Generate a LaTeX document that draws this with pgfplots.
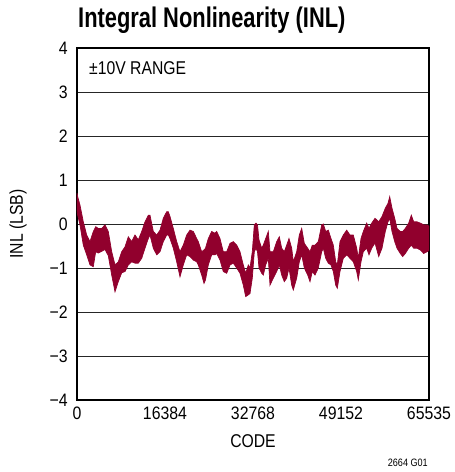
\documentclass[border=0pt]{standalone}
\usepackage{fontspec}
\setmainfont{Liberation Sans}[FakeStretch=0.85]
\newfontfamily\titlefont{Liberation Sans}[FakeStretch=0.77]
\newfontfamily\tickfont{Liberation Sans}[FakeStretch=0.88]
\usepackage{pgfplots}
\pgfplotsset{compat=1.18}
\usepackage{pgfplotstable}
\definecolor{inl}{RGB}{145,0,45}
\pgfplotstableread{
x top bot
0 0.70 0.30
130 0.62 0.20
559 0.43 -0.02
1173 0.05 -0.48
1806 -0.25 -0.70
2420 -0.40 -0.93
3035 -0.17 -0.97
3482 -0.06 -0.63
3966 -0.10 -0.66
4599 -0.10 -0.62
5213 -0.02 -0.58
5828 -0.17 -0.72
6460 -0.63 -1.16
7075 -0.93 -1.54
7689 -0.86 -1.31
8322 -0.63 -1.11
8936 -0.52 -1.08
9551 -0.29 -0.93
10184 -0.40 -0.86
10798 -0.25 -0.89
11413 -0.36 -0.89
12046 -0.17 -0.78
12660 0.05 -0.55
13275 0.20 -0.33
13591 0.20 -0.25
14206 -0.17 -0.55
14839 -0.25 -0.70
15453 -0.14 -0.63
16067 0.13 -0.40
16700 0.28 -0.25
17000 0.28 -0.25
17316 0.17 -0.33
17929 -0.10 -0.55
18562 -0.40 -0.86
19177 -0.63 -1.20
19791 -0.48 -0.93
20424 -0.25 -0.70
21039 -0.14 -0.74
21653 -0.17 -0.82
22286 -0.33 -0.86
22584 -0.40 -0.93
23217 -0.63 -1.16
23645 -0.59 -1.35
23924 -0.55 -1.27
24445 -0.33 -0.93
25078 -0.17 -0.70
25693 -0.21 -0.70
26009 -0.17 -0.67
26624 -0.33 -0.82
27238 -0.63 -1.08
27871 -0.63 -1.12
28486 -0.44 -0.93
29100 -0.40 -0.89
29733 -0.48 -1.00
30348 -0.63 -1.12
30962 -0.93 -1.39
31409 -1.12 -1.65
31893 -0.93 -1.61
32209 -1.00 -1.58
32638 -0.63 -1.23
33010 -0.02 -0.63
33326 0.02 -0.55
33605 -0.02 -0.63
33885 -0.36 -1.00
34388 -0.55 -1.12
34685 -0.48 -1.16
35132 -0.33 -0.93
35616 -0.17 -0.78
35933 -0.63 -1.39
36547 -0.63 -1.23
37180 -0.40 -1.08
37664 -0.29 -0.93
38111 -0.55 -1.16
38595 -0.63 -1.31
39042 -0.48 -1.23
39470 -0.33 -1.00
39973 -0.55 -1.39
40271 -0.86 -1.50
40904 -0.63 -1.23
41388 -0.25 -0.86
41835 -0.10 -0.70
42319 -0.44 -1.00
42952 -0.55 -1.16
43380 -0.63 -1.31
43808 -0.48 -1.08
44311 -0.48 -1.16
44925 -0.40 -1.00
45558 -0.02 -0.63
45856 0.00 -0.55
46303 -0.17 -0.78
46787 -0.14 -0.89
47290 -0.33 -0.93
47718 -0.48 -1.08
48165 -0.86 -1.39
48463 -0.93 -1.46
48965 -0.40 -1.08
49580 -0.25 -0.78
50213 -0.14 -0.70
50827 -0.25 -0.78
51442 -0.25 -0.86
52075 -0.55 -1.08
52373 -0.78 -1.27
52875 -0.33 -0.86
53304 -0.17 -0.63
53937 0.02 -0.55
54365 -0.10 -0.70
54868 0.02 -0.55
55482 0.13 -0.43
56171 0.05 -0.74
56785 0.17 -0.55
57400 0.36 -0.17
57902 0.47 0.05
58219 0.62 0.13
58647 0.36 -0.17
59150 0.13 -0.40
59578 -0.10 -0.55
60192 -0.17 -0.67
60639 -0.17 -0.74
61123 -0.10 -0.67
61756 0.02 -0.55
62240 0.20 -0.48
62687 0.05 -0.55
63301 0.05 -0.55
63916 0.02 -0.59
64549 -0.02 -0.67
65163 -0.02 -0.63
65535 -0.05 -0.60
}\inldata
\begin{document}
\begin{tikzpicture}
\useasboundingbox (-77pt,-72pt) rectangle (378pt,400pt);
\begin{axis}[
  at={(0pt,0pt)}, anchor=south west,
  scale only axis, width=352pt, height=352pt,
  xmin=0, xmax=65535, ymin=-4, ymax=4,
  scaled x ticks=false,
  xtick={0,16384,32768,49152,65535},
  xticklabels={0,16384,32768,49152,65535},
  ytick={-4,-3,-2,-1,0,1,2,3,4},
  yticklabels={−4,−3,−2,−1,0,1,2,3,4},
  major tick length=0pt,
  ymajorgrids, grid style={black!85, line width=0.75pt},
  axis line style={black, line width=1.2pt},
  ticklabel style={font=\tickfont\fontsize{18}{18}\selectfont, inner sep=0pt},
  yticklabel style={anchor=east, xshift=-9pt},
  xticklabel style={anchor=north, yshift=-7pt},
  stack plots=y,
]
\addplot[draw=none] table[x=x, y=bot] {\inldata};
\addplot[fill=inl, draw=inl, line width=0.7pt] table[x=x, y expr=\thisrow{top}-\thisrow{bot}] {\inldata} \closedcycle;
\end{axis}
\node[anchor=base west, inner sep=0pt, font=\titlefont\bfseries\fontsize{28.4}{30}\selectfont] at (1pt,372.3pt) {Integral Nonlinearity (INL)};
\node[anchor=west, inner sep=0pt, font=\fontsize{18.5}{20}\selectfont] at (12pt,332pt) {±10V RANGE};
\node[rotate=90, inner sep=0pt, font=\fontsize{18.5}{20}\selectfont] at (-59pt,176pt) {INL (LSB)};
\node[inner sep=0pt, font=\fontsize{18.5}{20}\selectfont] at (176pt,-41pt) {CODE};
\node[anchor=east, inner sep=0pt, font=\fontsize{10.7}{12}\selectfont] at (351pt,-63pt) {2664 G01};
\end{tikzpicture}
\end{document}
